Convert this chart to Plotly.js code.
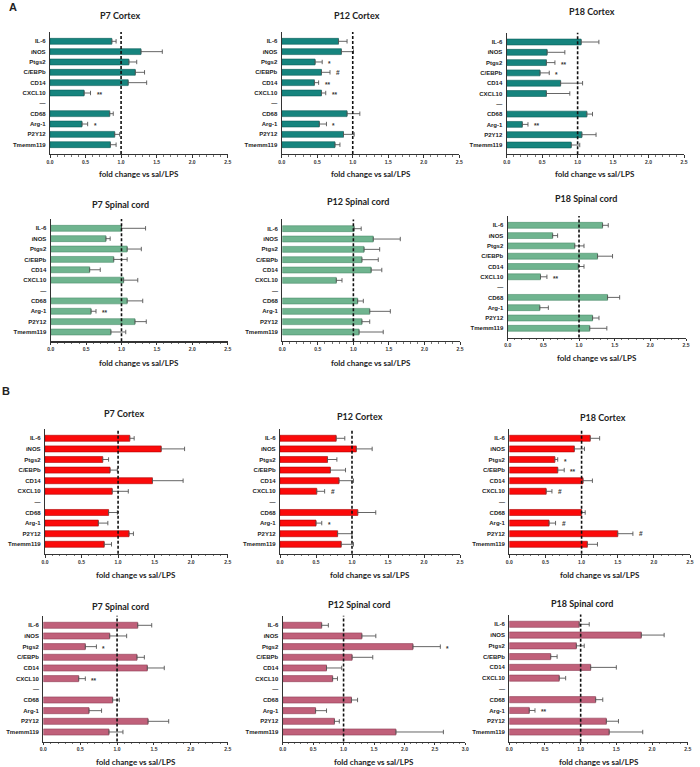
<!DOCTYPE html>
<html><head><meta charset="utf-8">
<script src="https://cdn.plot.ly/plotly-3.0.1.min.js"></script>
<style>html,body{margin:0;padding:0;background:#fff}#chart{width:700px;height:767px}</style>
</head><body><div id="chart"></div>
<script>
const categories = ["IL-6","iNOS","Ptgs2","C/EBPb","CD14","CXCL10","—","CD68","Arg-1","P2Y12","Tmemm119"];
const panelTitles = ["P7 Cortex","P12 Cortex","P18 Cortex","P7 Spinal cord","P12 Spinal cord","P18 Spinal cord",
                     "P7 Cortex","P12 Cortex","P18 Cortex","P7 Spinal cord","P12 Spinal cord","P18 Spinal cord"];
const xTickValues = [0,0.5,1,1.5,2,2.5,3];
const xTickLabels = ["0.0","0.5","1.0","1.5","2.0","2.5","3.0"];
const xAxisTitle = "fold change vs sal/LPS";
const panelLetters = ["A","B"];
const referenceLine = 1.0;

// Panel A
const aP7Cortex     = [0.87,1.28,1.11,1.20,1.10,0.48,null,0.84,0.45,0.91,0.85];
const aP7CortexErr  = [0.06,0.30,0.11,0.13,0.26,0.09,null,0.05,0.08,0.07,0.08];
const aP7CortexSig  = ["","","","","","**","","","*","",""];
const aP12Cortex    = [0.80,0.84,0.47,0.56,0.46,0.56,null,0.92,0.53,0.87,0.75];
const aP12CortexErr = [0.12,0.17,0.10,0.12,0.06,0.06,null,0.18,0.10,0.15,0.07];
const aP12CortexSig = ["","","*","#","**","**","","","*","",""];
const aP18Cortex    = [1.05,0.57,0.56,0.47,0.76,0.56,null,1.13,0.22,1.06,0.91];
const aP18CortexErr = [0.25,0.25,0.12,0.13,0.31,0.33,null,0.08,0.08,0.20,0.12];
const aP18CortexSig = ["","","**","*","","","","","**","",""];
const aP7Spinal     = [1.00,0.78,1.08,0.89,0.55,1.03,null,1.08,0.57,1.19,0.85];
const aP7SpinalErr  = [0.34,0.06,0.20,0.19,0.15,0.20,null,0.22,0.07,0.16,0.21];
const aP7SpinalSig  = ["","","","","","","","","**","",""];
const aP12Spinal    = [1.01,1.28,1.15,1.12,1.25,0.76,null,1.06,1.23,1.12,1.08];
const aP12SpinalErr = [0.10,0.38,0.22,0.23,0.15,0.08,null,0.08,0.29,0.11,0.34];
const aP12SpinalSig = ["","","","","","","","","","",""];
const aP18Spinal    = [1.33,0.63,0.94,1.26,0.99,0.46,null,1.40,0.45,1.19,1.15];
const aP18SpinalErr = [0.08,0.07,0.13,0.21,0.08,0.09,null,0.17,0.12,0.09,0.24];
const aP18SpinalSig = ["","","","","","**","","","","",""];
// Panel B
const bP7Cortex     = [1.16,1.59,0.79,0.89,1.47,0.92,null,0.87,0.73,1.15,0.81];
const bP7CortexErr  = [0.06,0.32,0.08,0.10,0.42,0.22,null,0.12,0.13,0.06,0.10];
const bP7CortexSig  = ["","","","","","","","","","",""];
const bP12Cortex    = [0.78,1.06,0.66,0.70,0.82,0.51,null,1.08,0.50,0.80,0.85];
const bP12CortexErr = [0.12,0.22,0.13,0.21,0.20,0.11,null,0.25,0.08,0.20,0.17];
const bP12CortexSig = ["","","","","","#","","","*","",""];
const bP18Cortex    = [1.12,0.90,0.63,0.67,1.02,0.51,null,1.00,0.55,1.50,1.08];
const bP18CortexErr = [0.13,0.14,0.04,0.09,0.13,0.08,null,0.05,0.09,0.21,0.14];
const bP18CortexSig = ["","","*","**","","#","","","#","#",""];
const bP7Spinal     = [1.28,0.90,0.57,1.27,1.41,0.48,null,0.94,0.62,1.42,0.89];
const bP7SpinalErr  = [0.19,0.23,0.15,0.10,0.23,0.09,null,0.09,0.17,0.28,0.19];
const bP7SpinalSig  = ["","","*","","","**","","","","",""];
const bP12Spinal    = [0.64,1.30,2.14,1.14,0.72,0.82,null,1.13,0.54,0.85,1.86];
const bP12SpinalErr = [0.11,0.23,0.45,0.34,0.25,0.08,null,0.10,0.18,0.08,0.78];
const bP12SpinalSig = ["","","*","","","","","","","",""];
const bP18Spinal    = [0.98,1.85,0.94,0.58,1.14,0.70,null,1.21,0.28,1.36,1.40];
const bP18SpinalErr = [0.14,0.32,0.11,0.09,0.36,0.09,null,0.10,0.08,0.17,0.47];
const bP18SpinalSig = ["","","","","","","","","**","",""];

const panelValues = [aP7Cortex,aP12Cortex,aP18Cortex,aP7Spinal,aP12Spinal,aP18Spinal,bP7Cortex,bP12Cortex,bP18Cortex,bP7Spinal,bP12Spinal,bP18Spinal];
const panelErrors = [aP7CortexErr,aP12CortexErr,aP18CortexErr,aP7SpinalErr,aP12SpinalErr,aP18SpinalErr,bP7CortexErr,bP12CortexErr,bP18CortexErr,bP7SpinalErr,bP12SpinalErr,bP18SpinalErr];
const panelSig = [aP7CortexSig,aP12CortexSig,aP18CortexSig,aP7SpinalSig,aP12SpinalSig,aP18SpinalSig,bP7CortexSig,bP12CortexSig,bP18CortexSig,bP7SpinalSig,bP12SpinalSig,bP18SpinalSig];
const panelXMax = [2.5,2.5,2.5,2.5,2.5,2.5,2.5,2.5,2.5,2.5,3.0,2.5];

// layout geometry (px): [x of 0, x of max, y of first bar, y of last bar]
const geom = [
  [50,227.7,41.3,144.7],[281.7,459.3,41.3,144.7],[506.7,684,42,145],
  [50.7,227.7,228.3,332],[282.3,460,228.7,332],[507.7,686,225.3,328.3],
  [45,227.7,438.3,544.3],[280,460,438.3,544.3],[509.3,690,438.3,544.3],
  [43.3,227.7,625.3,732],[282.7,465.3,625.3,732],[509.3,687.7,624.3,732]
];
const titlePos = [[120,16],[357,15],[592,12],[120.5,205],[358,201],[585.5,198.5],
                  [123.7,414],[359.7,416.7],[603,417.7],[120,606],[359,604.3],[581.7,603.3]];
const xTitleY = [174,174,174.3,363,363,358,575,575,575,761.7,761.7,761.7];
const colors = ["#16847e","#16847e","#16847e","#6fb48f","#6fb48f","#6fb48f",
                "#fb0a0a","#fb0a0a","#fb0a0a","#c0607a","#c0607a","#c0607a"];
const lineColors = ["#0c5e59","#0c5e59","#0c5e59","#4d8f6b","#4d8f6b","#4d8f6b",
                    "#b00000","#b00000","#b00000","#8f3e55","#8f3e55","#8f3e55"];

const W = 700, H = 767;
const traces = [], shapes = [], annotations = [];
const layout = {
  width: W, height: H, margin: {l:0,r:0,t:0,b:0}, showlegend: false,
  paper_bgcolor: "#fff", plot_bgcolor: "rgba(0,0,0,0)", bargap: 0.43,
  font: {family: "Liberation Sans, Arial, sans-serif", color: "#222"}
};

for (let i = 0; i < 12; i++) {
  const n = i === 0 ? "" : String(i + 1);
  const [xl, xr, yf, yl] = geom[i];
  const s = (yl - yf) / 10;
  const top = yf - 0.9 * s, bottom = yl + 0.9 * s;
  traces.push({
    type: "bar", orientation: "h", y: categories, x: panelValues[i],
    xaxis: "x" + n, yaxis: "y" + n,
    marker: {color: colors[i], line: {color: lineColors[i], width: 0.6}},
    error_x: {type: "data", symmetric: false, array: panelErrors[i],
              arrayminus: panelErrors[i].map(v => v === null ? null : 0),
              color: "#555", thickness: 0.9, width: 2.2},
    hoverinfo: "x+y"
  });
  const tv = xTickValues.filter(v => v <= panelXMax[i] + 1e-9);
  layout["xaxis" + n] = {
    domain: [xl / W, xr / W], anchor: "y" + n, range: [0, panelXMax[i]],
    tickvals: tv, ticktext: xTickLabels.slice(0, tv.length),
    showline: true, linecolor: "#333", linewidth: 1.2, ticks: "outside", ticklen: 2.5,
    tickwidth: 1, tickcolor: "#333", showgrid: false, zeroline: false,
    tickfont: {size: 5, weight: "bold", color: "#333"},
    minor: {dtick: 0.1, ticks: "outside", ticklen: 1.3, tickcolor: "#555", tickwidth: 0.8, showgrid: false},
    fixedrange: true
  };
  layout["yaxis" + n] = {
    domain: [1 - bottom / H, 1 - top / H], anchor: "x" + n, type: "category",
    categoryorder: "array", categoryarray: categories, range: [10.9, -0.9], autorange: false,
    showline: true, linecolor: "#333", linewidth: 1.2, ticks: "", showgrid: false, zeroline: false,
    tickfont: {size: 6, weight: "bold", color: "#222"}, ticklabelstandoff: 2, fixedrange: true
  };
  shapes.push({type: "line", xref: "x" + n, yref: "y" + n + " domain", x0: referenceLine, x1: referenceLine,
               y0: 0, y1: 1, line: {color: "#111", width: 1.6, dash: "3px,2px"}});
  annotations.push({xref: "paper", yref: "paper", x: titlePos[i][0] / W, y: 1 - titlePos[i][1] / H,
                    text: panelTitles[i], showarrow: false, xanchor: "center", yanchor: "middle",
                    font: {family: "Lato, Liberation Sans, sans-serif", size: 9, weight: "bold", color: "#222"}});
  annotations.push({xref: "paper", yref: "paper", x: (xl + xr) / 2 / W, y: 1 - xTitleY[i] / H,
                    text: xAxisTitle, showarrow: false, xanchor: "center", yanchor: "middle",
                    font: {family: "Lato, Liberation Sans, sans-serif", size: 8, weight: "bold", color: "#222"}});
  panelSig[i].forEach((t, k) => {
    if (!t) return;
    annotations.push({xref: "x" + n, yref: "y" + n, x: panelValues[i][k] + panelErrors[i][k], y: categories[k],
                      text: t, showarrow: false, xanchor: "left", yanchor: "middle", xshift: 4,
                      yshift: t.indexOf("*") >= 0 ? -1.5 : 0,
                      font: {size: 6.5, weight: "bold", color: "#333"}});
  });
}
annotations.push({xref: "paper", yref: "paper", x: 13 / W, y: 1 - 7 / H, text: panelLetters[0], showarrow: false,
                  xanchor: "center", yanchor: "middle", font: {size: 11, weight: "bold", color: "#222"}});
annotations.push({xref: "paper", yref: "paper", x: 6 / W, y: 1 - 391 / H, text: panelLetters[1], showarrow: false,
                  xanchor: "center", yanchor: "middle", font: {size: 11, weight: "bold", color: "#222"}});
layout.shapes = shapes;
layout.annotations = annotations;
Plotly.newPlot("chart", traces, layout, {displayModeBar: false, staticPlot: true});
</script></body></html>
